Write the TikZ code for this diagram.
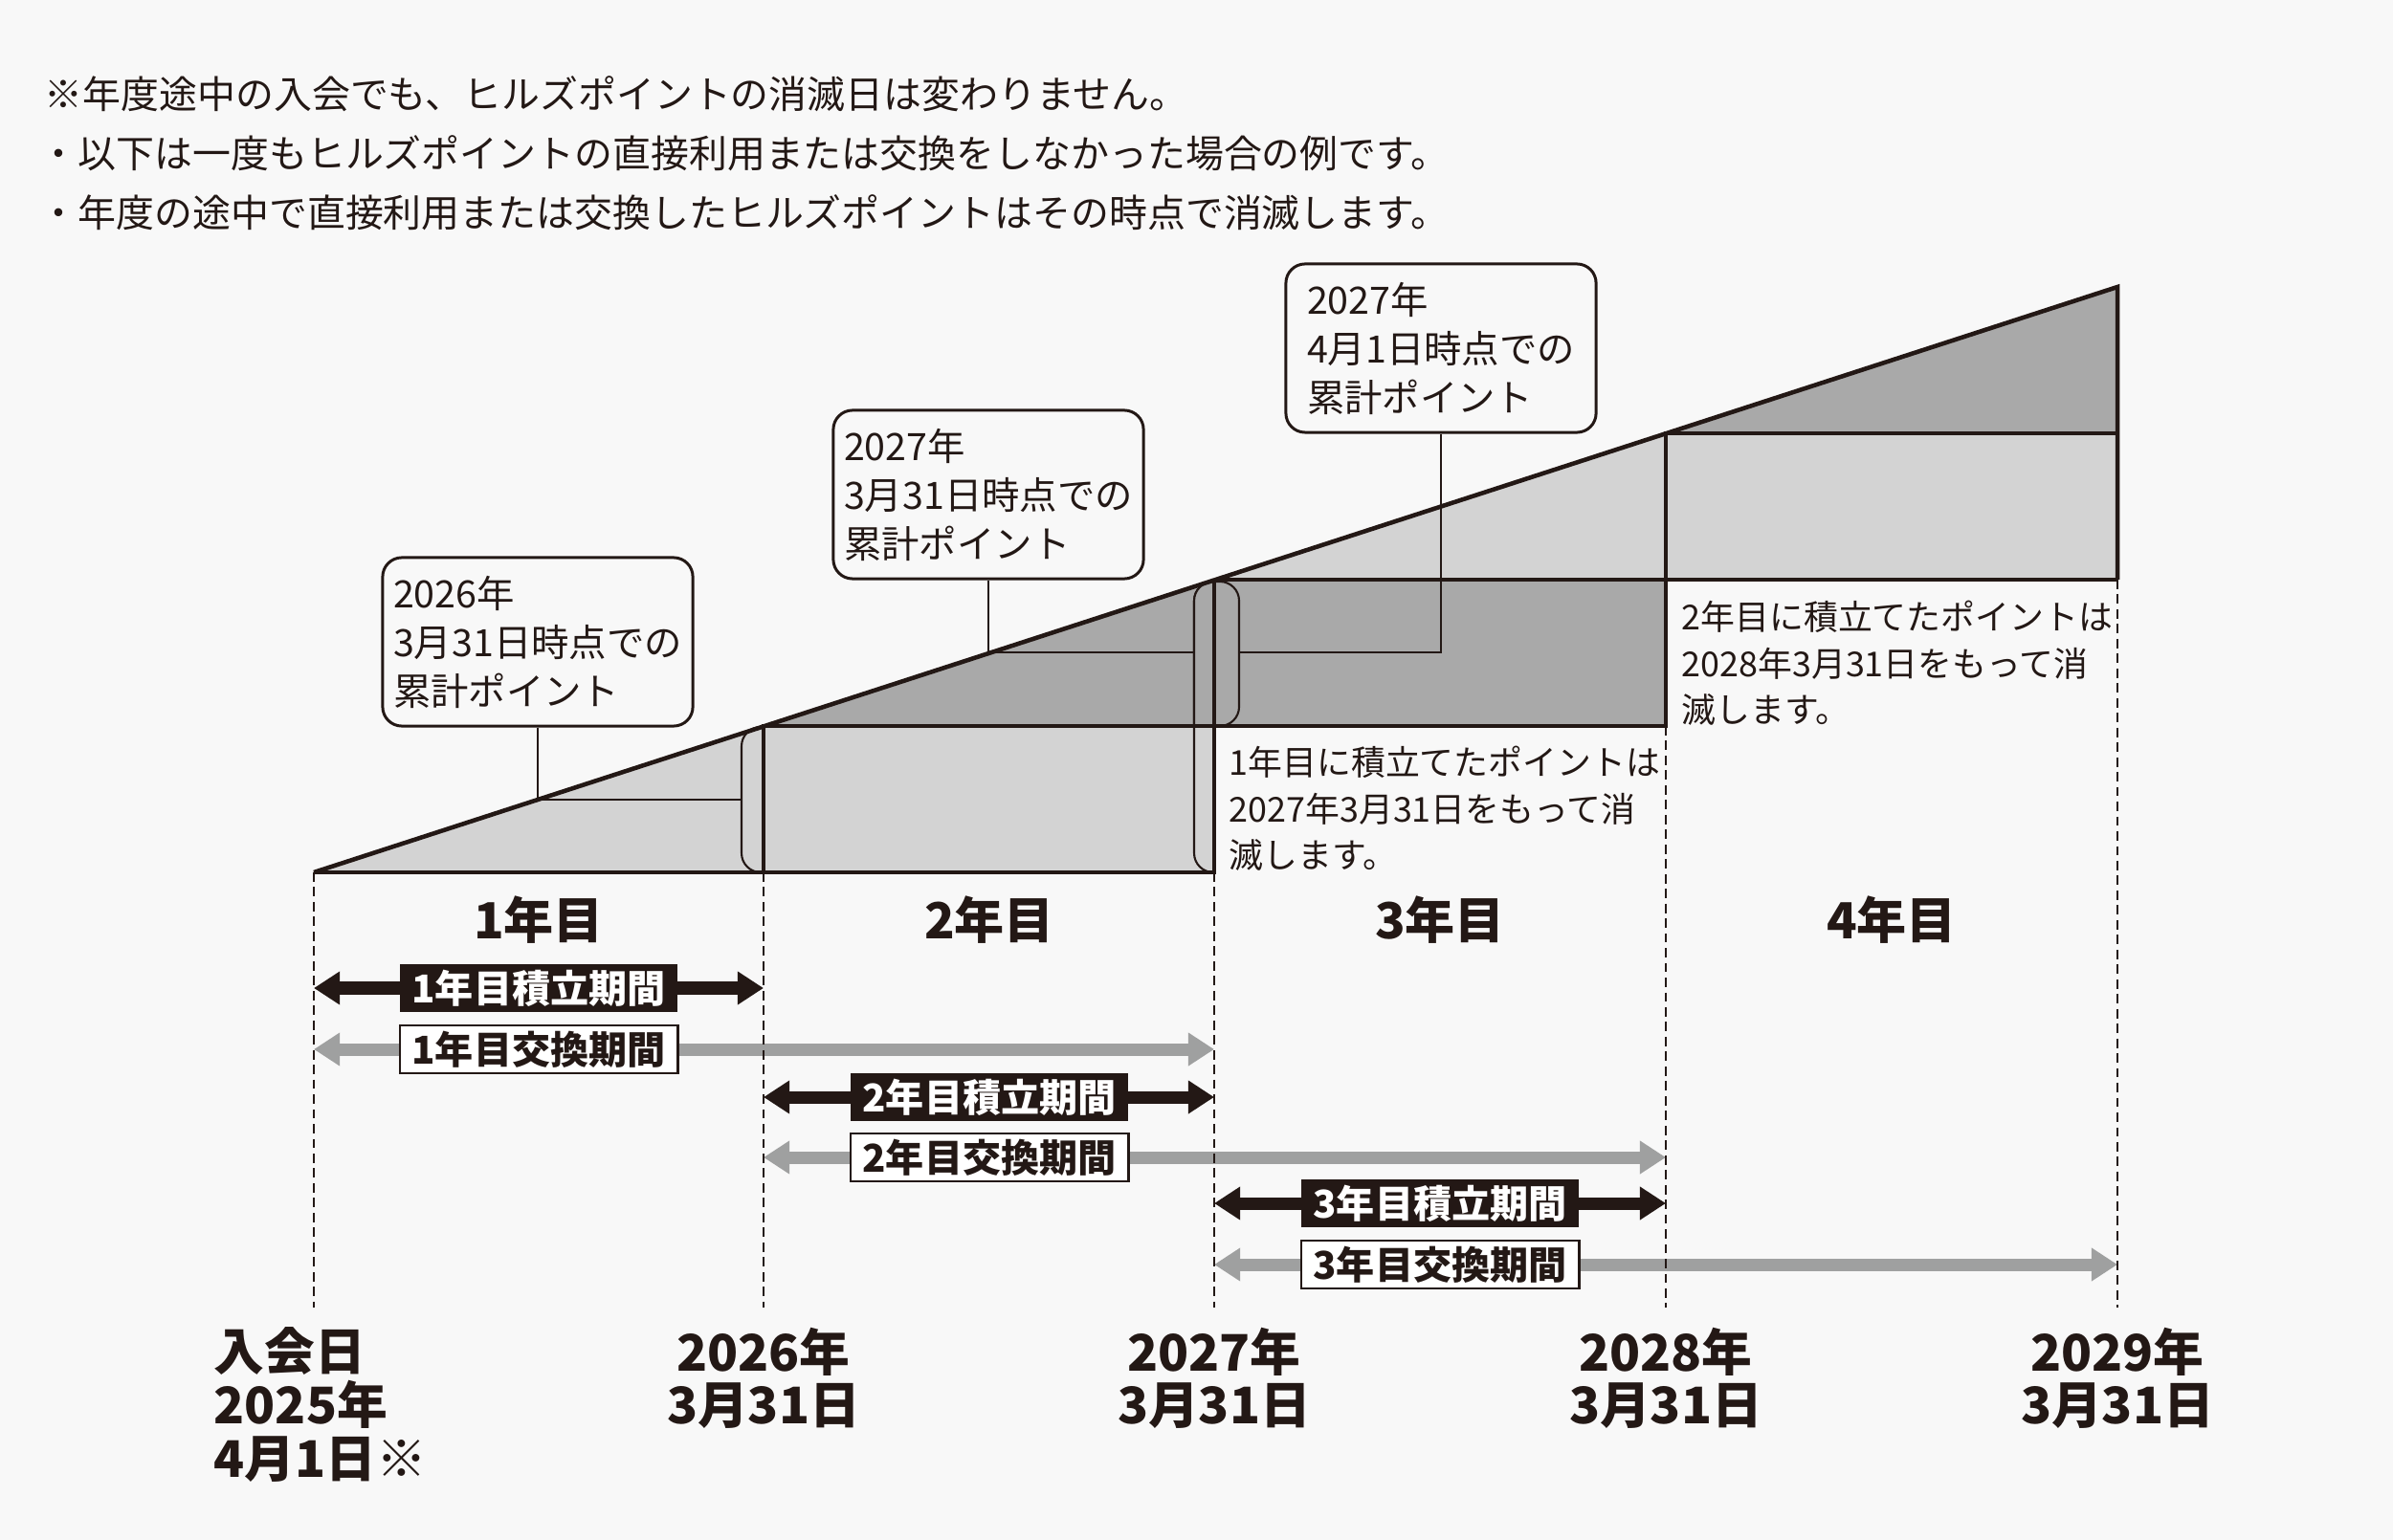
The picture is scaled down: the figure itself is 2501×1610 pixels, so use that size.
\documentclass[tikz,border=0pt]{standalone}
\usepackage{fontspec}
\setmainfont{Noto Sans CJK JP}
\usepackage{xcolor}
\usetikzlibrary{arrows.meta}

\definecolor{ink}{HTML}{231815}
\definecolor{paper}{HTML}{F8F8F8}
\definecolor{lightpt}{HTML}{D3D3D3}
\definecolor{darkpt}{HTML}{A9A9A9}
\definecolor{periodgray}{HTML}{9FA0A0}

\begin{document}
\begin{tikzpicture}[x=0.01cm,y=-0.01cm,color=ink,
  edge/.style={draw=ink,line width=1.3pt},
  thinline/.style={draw=ink,line width=0.6pt},
  guide/.style={draw=ink,line width=0.55pt,dash pattern=on 2.8pt off 1.6pt},
  capsule/.style={draw=ink,line width=0.6pt},
  header/.style={font=\fontsize{11.35}{13}\selectfont,inner sep=0pt},
  callout/.style={draw=ink,fill=paper,line width=0.85pt,rounded corners=5.7pt,
    minimum width=3.24cm,minimum height=1.76cm,inner sep=0pt,align=left,
    font=\fontsize{11.2}{14.5}\selectfont},
  note/.style={font=\fontsize{10.2}{13.9}\selectfont,align=left,inner sep=0pt},
  yearlabel/.style={font=\bfseries\fontsize{14.8}{16}\selectfont,inner sep=0pt},
  datelabel/.style={font=\bfseries\fontsize{15}{15.9}\selectfont,inner sep=0pt},
  accarrow/.style={draw=ink,line width=3.7pt,
    arrows={Triangle[length=7.7pt,width=9.4pt]-Triangle[length=7.7pt,width=9.4pt]}},
  exarrow/.style={draw=periodgray,line width=3.7pt,
    arrows={Triangle[length=7.7pt,width=9.4pt]-Triangle[length=7.7pt,width=9.4pt]}},
  acclabel/.style={fill=ink,text=white,minimum width=2.9cm,minimum height=0.5cm,
    inner sep=0pt,font=\bfseries\fontsize{11.4}{12}\selectfont},
  exlabel/.style={fill=white,draw=ink,line width=0.8pt,text=ink,minimum width=2.9cm,
    minimum height=0.5cm,inner sep=0pt,font=\bfseries\fontsize{11.4}{12}\selectfont}]

\useasboundingbox (0,0) rectangle (2501,1610);
\fill[paper] (0,0) rectangle (2501,1610);

% notes on top
\node[header,anchor=base west] (note1) at (46,114) {※年度途中の入会でも、ヒルズポイントの消滅日は変わりません。};
\node[header,anchor=base west] (note2) at (41,176) {・以下は一度もヒルズポイントの直接利用または交換をしなかった場合の例です。};
\node[header,anchor=base west] (note3) at (41,238) {・年度の途中で直接利用または交換したヒルズポイントはその時点で消滅します。};

% accumulated points
\fill[lightpt] (328,912) -- (798,759) -- (798,912) -- cycle;
\fill[lightpt] (798,759) rectangle (1269,912);
\fill[darkpt] (798,759) -- (1269,606) -- (1269,759) -- cycle;
\fill[darkpt] (1269,606) rectangle (1741,759);
\fill[lightpt] (1269,606) -- (1741,453) -- (1741,606) -- cycle;
\fill[lightpt] (1741,453) rectangle (2213,606);
\fill[darkpt] (1741,453) -- (2213,300) -- (2213,453) -- cycle;

\node[callout] (box1) at (562,671) {2026年\\3月31日時点での\\累計ポイント};
\node[callout] (box2) at (1033,517) {2027年\\3月31日時点での\\累計ポイント};
\node[callout] (box3) at (1506,364) {2027年\\4月1日時点での\\累計ポイント};

\coordinate (k1) at (562,836);
\coordinate (capA) at (775,836);
\coordinate (k2) at (1033,682);
\coordinate (capC) at (1248,682);
\coordinate (k3) at (1506,682);
\coordinate (capB) at (1295,682);
\draw[thinline] (box1.south) -- (k1) -- (capA);
\draw[thinline] (box2.south) -- (k2) -- (capC);
\draw[thinline] (box3.south) -- (k3) -- (capB);

% capsules at the year ends
\filldraw[capsule,fill=lightpt] (1269,608) -- (1268,608) .. controls (1257,608) and (1248,617) .. (1248,628)
  -- (1248,892) .. controls (1248,903) and (1257,912) .. (1268,912) -- (1269,912) -- cycle;
\filldraw[capsule,fill=darkpt] (1248,759) -- (1248,628) .. controls (1248,617) and (1257,608) .. (1268,608)
  -- (1275,608) .. controls (1286,608) and (1295,617) .. (1295,628)
  -- (1295,739) .. controls (1295,750) and (1286,759) .. (1275,759) -- cycle;
\filldraw[capsule,fill=lightpt] (798,760) -- (795,760) .. controls (784,760) and (775,769) .. (775,780)
  -- (775,892) .. controls (775,903) and (784,912) .. (795,912) -- (798,912) -- cycle;

% outlines
\draw[edge,line join=miter] (328,912) -- (2213,300) -- (2213,606);
\draw[edge] (328,912) -- (1269,912) -- (1269,606);
\draw[edge] (798,912) -- (798,759) -- (1741,759) -- (1741,453) -- (2213,453);
\draw[edge] (1269,606) -- (2213,606);

\node[note,anchor=north west] (expire1) at (1284,779) {1年目に積立てたポイントは\\2027年3月31日をもって消\\滅します。};
\node[note,anchor=north west] (expire2) at (1757,627) {2年目に積立てたポイントは\\2028年3月31日をもって消\\滅します。};

\node[yearlabel] (year1) at (563,962) {1年目};
\node[yearlabel] (year2) at (1034,962) {2年目};
\node[yearlabel] (year3) at (1505,962) {3年目};
\node[yearlabel] (year4) at (1977,962) {4年目};

% periods
\coordinate (t0) at (328,912);
\coordinate (t1) at (798,912);
\coordinate (t2) at (1269,912);
\coordinate (t3) at (1741,759);
\coordinate (t4) at (2213,606);
\coordinate (r1) at (0,1033);
\coordinate (r2) at (0,1097);
\coordinate (r3) at (0,1147);
\coordinate (r4) at (0,1210);
\coordinate (r5) at (0,1258);
\coordinate (r6) at (0,1322);

\draw[accarrow] (t0 |- r1) -- (t1 |- r1);
\draw[exarrow] (t0 |- r2) -- (t2 |- r2);
\draw[accarrow] (t1 |- r3) -- (t2 |- r3);
\draw[exarrow] (t1 |- r4) -- (t3 |- r4);
\draw[accarrow] (t2 |- r5) -- (t3 |- r5);
\draw[exarrow] (t2 |- r6) -- (t4 |- r6);

\coordinate (b0) at (328,1367);
\coordinate (b1) at (798,1367);
\coordinate (b2) at (1269,1367);
\coordinate (b3) at (1741,1367);
\coordinate (b4) at (2213,1367);
\draw[guide] (t0) -- (b0);
\draw[guide] (t1) -- (b1);
\draw[guide] (t2) -- (b2);
\draw[guide] (t3) -- (b3);
\draw[guide] (t4) -- (b4);

\node[acclabel] (acc1) at (563,1033) {1年目積立期間};
\node[exlabel] (ex1) at (563,1097) {1年目交換期間};
\node[acclabel] (acc2) at (1034,1147) {2年目積立期間};
\node[exlabel] (ex2) at (1034,1210) {2年目交換期間};
\node[acclabel] (acc3) at (1505,1258) {3年目積立期間};
\node[exlabel] (ex3) at (1505,1322) {3年目交換期間};

% dates
\node[datelabel,align=left,anchor=north west] (date0) at (223,1387) {入会日\\2025年\\4月1日※};
\node[datelabel,align=center,anchor=north] (date1) at (798,1387) {2026年\\3月31日};
\node[datelabel,align=center,anchor=north] (date2) at (1269,1387) {2027年\\3月31日};
\node[datelabel,align=center,anchor=north] (date3) at (1741,1387) {2028年\\3月31日};
\node[datelabel,align=center,anchor=north] (date4) at (2213,1387) {2029年\\3月31日};
\end{tikzpicture}
\end{document}
